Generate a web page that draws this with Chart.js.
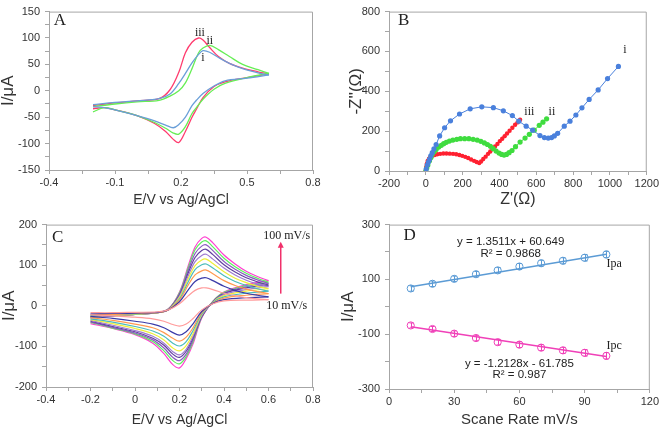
<!DOCTYPE html>
<html>
<head>
<meta charset="utf-8">
<script src="https://cdn.jsdelivr.net/npm/chart.js@4.4.0/dist/chart.umd.min.js"></script>
<style>
  html, body { margin: 0; padding: 0; background: #fff; }
  #wrap { position: relative; width: 661px; height: 427px; overflow: hidden; }
  canvas { position: absolute; }
</style>
</head>
<body>
<div id="wrap">
  <canvas id="chart-a" width="330" height="213" style="left:0;top:0"></canvas>
  <canvas id="chart-b" width="331" height="213" style="left:330px;top:0"></canvas>
  <canvas id="chart-c" width="330" height="214" style="left:0;top:213px"></canvas>
  <canvas id="chart-d" width="331" height="214" style="left:330px;top:213px"></canvas>
</div>
<script>
// ---- Panel A: CV of three electrodes (i, ii, iii) ----
const cvAFwdX = [-0.2, -0.1, 0, 0.1, 0.15, 0.19, 0.22, 0.25, 0.28, 0.3, 0.33, 0.37, 0.42, 0.48, 0.55, 0.6];
const cvARevX = [0.6, 0.5, 0.4, 0.35, 0.3, 0.27, 0.25, 0.22, 0.19, 0.165, 0.13, 0.08, 0, -0.1, -0.15, -0.2];
const cvAiFwd   = [-26, -22, -19, -15, -6, 14, 33, 53, 69, 76, 73, 63, 52, 42, 34, 30];
const cvAiRev   = [30, 24, 19, 9, -5, -18, -28, -50, -64, -70, -65, -57, -47, -36, -32, -30];
const cvAiiFwd  = [-30, -25, -21, -18, -10, 0, 15, 42, 72, 81, 86, 78, 65, 50, 40, 33];
const cvAiiRev  = [33, 25, 14, 3, -16, -32, -43, -68, -82, -80, -71, -60, -47, -36, -32, -40];
const cvAiiiFwd = [-28, -23, -19, -15, 2, 35, 72, 92, 100, 96, 82, 65, 52, 43, 36, 32];
const cvAiiiRev = [32, 25, 17, 8, -13, -35, -50, -77, -98, -92, -77, -62, -47, -36, -32, -34];

// ---- Panel B: Nyquist plots ----
const eisIX = [2, 8, 14, 20, 27, 35, 44, 56, 75, 102, 134, 183, 241, 304, 367, 421, 470, 505, 545, 580, 620, 644, 665, 683, 698, 716, 752, 783, 815, 848, 887, 936, 987, 1046];
const eisIY = [10, 30, 45, 58, 76, 92, 111, 133, 176, 217, 252, 286, 312, 322, 318, 302, 278, 250, 225, 205, 178, 168, 165, 168, 176, 189, 225, 250, 281, 317, 359, 407, 464, 525];
const eisIiX = [0, 5, 11, 20, 28, 35, 45, 56, 70, 84, 97, 111, 128, 147, 168, 188, 211, 234, 257, 279, 299, 318, 335, 351, 366, 382, 398, 412, 425, 438, 452, 468, 487, 512, 539, 562, 589, 616, 636, 656];
const eisIiY = [0, 15, 30, 52, 68, 84, 97, 108, 120, 129, 137, 144, 150, 155, 159, 162, 162, 162, 159, 155, 149, 141, 133, 124, 112, 100, 90, 83, 80, 83, 92, 103, 122, 145, 165, 184, 205, 229, 245, 262];
const eisIiiX = [0, 2, 5, 10, 17, 25, 35, 48, 62, 78, 95, 112, 130, 148, 165, 182, 198, 214, 230, 246, 262, 276, 290, 300, 312, 325, 338, 350, 363, 376, 389, 402, 415, 428, 441, 455, 470, 485, 498, 512];
const eisIiiY = [0, 20, 35, 50, 62, 70, 76, 80, 84, 86, 88, 88, 87, 86, 84, 80, 76, 71, 65, 58, 51, 45, 40, 48, 60, 72, 86, 98, 110, 123, 136, 150, 162, 175, 188, 202, 217, 232, 244, 257];

// ---- Panel C: CV at scan rates 10..100 mV/s ----
const scanRateNames = ['10', '20', '30', '40', '50', '60', '70', '80', '90', '100'];
const cvCFwdX = [-0.2, -0.1, 0, 0.1, 0.15, 0.2, 0.24, 0.27, 0.3, 0.32, 0.35, 0.4, 0.45, 0.5, 0.55, 0.6];
const cvCRevX = [0.6, 0.5, 0.4, 0.35, 0.3, 0.26, 0.23, 0.2, 0.17, 0.13, 0.08, 0, -0.1, -0.2];
const cvCFwd = [
  [-17, -17, -16, -15, -10, 5, 25, 38, 44, 44, 40, 31, 25, 20, 17, 15],
  [-20, -19, -18, -16, -10, 10, 40, 60, 68, 69, 62, 48, 38, 31, 26, 22],
  [-22, -21, -19, -17, -10, 14, 52, 76, 86, 88, 79, 62, 50, 41, 35, 30],
  [-24, -22, -20, -17, -10, 17, 60, 89, 101, 103, 93, 74, 60, 50, 42, 36],
  [-25, -23, -21, -17, -9, 21, 68, 99, 113, 115, 104, 84, 68, 57, 48, 42],
  [-26, -24, -21, -17, -9, 24, 75, 109, 124, 127, 115, 93, 76, 63, 54, 47],
  [-27, -24, -21, -17, -9, 27, 82, 119, 136, 139, 126, 101, 83, 69, 59, 51],
  [-28, -25, -21, -17, -8, 29, 89, 129, 147, 150, 136, 109, 90, 75, 64, 55],
  [-29, -25, -21, -17, -8, 32, 95, 138, 157, 160, 145, 117, 96, 80, 68, 58],
  [-30, -25, -21, -17, -8, 34, 100, 145, 166, 169, 155, 125, 103, 85, 72, 62]
];
const cvCRev = [
  [15, 14, 12, 5, -10, -32, -45, -50, -46, -38, -32, -28, -25, -22],
  [22, 20, 15, 6, -14, -45, -64, -72, -66, -54, -45, -38, -31, -26],
  [30, 26, 19, 7, -17, -55, -77, -87, -80, -66, -54, -45, -36, -29],
  [36, 31, 22, 8, -20, -62, -88, -99, -92, -75, -62, -51, -40, -32],
  [42, 36, 25, 9, -22, -70, -98, -111, -104, -84, -69, -56, -44, -34],
  [47, 40, 28, 9, -24, -76, -107, -121, -113, -92, -75, -61, -48, -36],
  [51, 44, 30, 10, -26, -80, -112, -127, -119, -97, -80, -64, -51, -38],
  [55, 47, 31, 10, -27, -85, -119, -135, -127, -104, -84, -67, -53, -40],
  [58, 50, 33, 11, -28, -90, -125, -143, -135, -111, -88, -69, -55, -41],
  [62, 52, 34, 11, -30, -95, -130, -153, -145, -118, -92, -71, -56, -44]
];
const cvCColors = ['#ff9b9b', '#3a3aa8', '#ff9a50', '#4bbcbc', '#eeee3a', '#a07cd0', '#6040a0', '#8a5cc0', '#5ef05e', '#ff40d0'];

// ---- Panel D: peak current vs scan rate ----
const scanRates = [10, 20, 30, 40, 50, 60, 70, 80, 90, 100];
const ipa = [67, 84, 102, 119, 133, 147, 159, 168, 179, 191];
const ipaErr = [10, 10, 10, 10, 10, 11, 11, 11, 12, 12];
const ipc = [-68, -81, -98, -114, -129, -138, -149, -159, -168, -179];
const ipcErr = [9, 9, 10, 10, 10, 11, 11, 11, 12, 12];
const fitX = [10, 100];
const ipaFit = [73, 192];
const ipcFit = [-73, -181];

// text labels, placed in data units
const notesA = [
  { text: 'A', x: -0.35, y: 133, big: true },
  { text: 'iii', x: 0.286, y: 109 },
  { text: 'ii', x: 0.331, y: 95 },
  { text: 'i', x: 0.30, y: 63 }
];
const notesB = [
  { text: 'B', x: -120, y: 755, big: true },
  { text: 'i', x: 1082, y: 609 },
  { text: 'iii', x: 562, y: 299 },
  { text: 'ii', x: 685, y: 299 }
];
const notesC = [
  { text: 'C', x: -0.347, y: 168, big: true },
  { text: '100 mV/s', x: 0.682, y: 173 },
  { text: '10 mV/s', x: 0.682, y: 0 }
];
const arrowC = { x: 0.655, yFrom: 30, yTo: 158 };
const notesD = [
  { text: 'D', x: 9.5, y: 261, big: true },
  { text: 'y = 1.3511x + 60.649', x: 56, y: 237, sans: true },
  { text: 'R² = 0.9868', x: 56, y: 195, sans: true },
  { text: 'Ipa', x: 103.6, y: 156 },
  { text: 'Ipc', x: 103.6, y: -141 },
  { text: 'y = -1.2128x - 61.785', x: 60, y: -209, sans: true },
  { text: 'R² = 0.987', x: 60, y: -249, sans: true }
];

const FRAME = '#a6a6a6';
const SANS = "'Liberation Sans', Arial, sans-serif";
const SERIF = "'Liberation Serif', 'Times New Roman', serif";

function pts(xs, ys) {
  return xs.map((x, i) => ({ x: x, y: ys[i] }));
}

function fmt(v) {
  return String(Math.round(v * 100) / 100);
}

function axis(min, max, step, size, isY, title, titleSize, titlePad) {
  return {
    type: 'linear',
    min: min,
    max: max,
    afterFit: function(s) {
      if (isY) s.width = size; else s.height = size;
    },
    border: { color: FRAME },
    grid: { drawOnChartArea: false, color: FRAME, tickLength: 4 },
    ticks: {
      stepSize: step,
      autoSkip: false,
      maxRotation: 0,
      padding: isY ? 5 : 2,
      color: '#333',
      font: { family: SANS, size: 11 },
      callback: function(value, index) {
        return index % 2 === 0 ? fmt(value) : '';
      }
    },
    title: {
      display: true,
      text: title,
      color: '#333',
      font: { family: SANS, size: titleSize, lineHeight: 1 },
      padding: isY ? { top: titlePad, bottom: 0 } : { top: 0, bottom: titlePad }
    }
  };
}

// frame + text notes drawn through the chart's own scales
function notesPlugin(notes, arrow) {
  return {
    id: 'notes',
    afterDraw: function(chart) {
      const ctx = chart.ctx;
      const a = chart.chartArea;
      const xs = chart.scales.x, ys = chart.scales.y;
      ctx.save();
      ctx.strokeStyle = FRAME;
      ctx.lineWidth = 1;
      ctx.beginPath();
      ctx.moveTo(a.left, a.top + 0.5);
      ctx.lineTo(a.right - 0.5, a.top + 0.5);
      ctx.lineTo(a.right - 0.5, a.bottom);
      ctx.stroke();
      ctx.textAlign = 'center';
      ctx.textBaseline = 'middle';
      notes.forEach(function(n) {
        ctx.fillStyle = '#222';
        if (n.big) ctx.font = '17px ' + SERIF;
        else if (n.sans) ctx.font = '11.5px ' + SANS;
        else ctx.font = '12px ' + SERIF;
        ctx.fillText(n.text, xs.getPixelForValue(n.x), ys.getPixelForValue(n.y));
      });
      if (arrow) {
        const ax = xs.getPixelForValue(arrow.x);
        const y0 = ys.getPixelForValue(arrow.yFrom);
        const y1 = ys.getPixelForValue(arrow.yTo);
        ctx.strokeStyle = '#f0306a';
        ctx.fillStyle = '#f0306a';
        ctx.lineWidth = 1.5;
        ctx.beginPath();
        ctx.moveTo(ax, y0);
        ctx.lineTo(ax, y1 + 4);
        ctx.stroke();
        ctx.beginPath();
        ctx.moveTo(ax, y1);
        ctx.lineTo(ax - 3, y1 + 6);
        ctx.lineTo(ax + 3, y1 + 6);
        ctx.closePath();
        ctx.fill();
      }
      ctx.restore();
    }
  };
}

function baseOptions(scales, pad) {
  return {
    responsive: false,
    animation: false,
    devicePixelRatio: 1,
    events: [],
    layout: { padding: pad },
    plugins: { legend: { display: false }, tooltip: { enabled: false } },
    scales: scales
  };
}

function curve(xs, ys, color, width) {
  return {
    data: pts(xs, ys),
    showLine: true,
    borderColor: color,
    borderWidth: width || 1.3,
    pointRadius: 0,
    tension: 0.35
  };
}

// Panel A
new Chart(document.getElementById('chart-a'), {
  type: 'scatter',
  data: {
    datasets: [
      curve(cvAFwdX, cvAiFwd, '#6a9fd8'), curve(cvARevX, cvAiRev, '#6a9fd8'),
      curve(cvAFwdX, cvAiiFwd, '#66ee55'), curve(cvARevX, cvAiiRev, '#66ee55'),
      curve(cvAFwdX, cvAiiiFwd, '#ff3b6e'), curve(cvARevX, cvAiiiRev, '#ff3b6e')
    ]
  },
  options: baseOptions({
    x: axis(-0.4, 0.8, 0.15, 43, false, 'E/V vs Ag/AgCl', 14, 6),
    y: axis(-150, 150, 25, 49, true, 'I/μA', 17, 0)
  }, { top: 6, right: 17, left: 0, bottom: 0 }),
  plugins: [notesPlugin(notesA)]
});

// Panel B
function eis(xs, ys, color, r) {
  return {
    data: pts(xs, ys),
    showLine: true,
    borderColor: color,
    backgroundColor: color,
    borderWidth: 1,
    pointRadius: r,
    pointBorderWidth: 0,
    tension: 0
  };
}
new Chart(document.getElementById('chart-b'), {
  type: 'scatter',
  data: {
    datasets: [
      eis(eisIX, eisIY, '#4a80dc', 2.6),
      eis(eisIiX, eisIiY, '#3fdc3f', 2.6),
      eis(eisIiiX, eisIiiY, '#ff2030', 2.2)
    ]
  },
  options: baseOptions({
    x: axis(-200, 1200, 100, 42, false, "Z'(Ω)", 16, 5),
    y: axis(0, 800, 100, 59, true, "-Z''(Ω)", 17, 18)
  }, { top: 6, right: 13, left: 0, bottom: 0 }),
  plugins: [notesPlugin(notesB)]
});

// Panel C
const cDatasets = [];
scanRateNames.forEach(function(name, i) {
  cDatasets.push(curve(cvCFwdX, cvCFwd[i], cvCColors[i], 1.2));
  cDatasets.push(curve(cvCRevX, cvCRev[i], cvCColors[i], 1.2));
});
new Chart(document.getElementById('chart-c'), {
  type: 'scatter',
  data: { datasets: cDatasets },
  options: baseOptions({
    x: axis(-0.4, 0.8, 0.1, 40, false, 'E/V vs Ag/AgCl', 14, 0),
    y: axis(-200, 200, 50, 46, true, 'I/μA', 17, 1)
  }, { top: 9, right: 17, left: 0, bottom: 0 }),
  plugins: [notesPlugin(notesC, arrowC)]
});

// Panel D
const errorBars = {
  id: 'errorBars',
  afterDatasetsDraw: function(chart) {
    const ctx = chart.ctx;
    const xs = chart.scales.x, ys = chart.scales.y;
    ctx.save();
    ctx.lineWidth = 1;
    [[ipa, ipaErr, '#5b9bd5'], [ipc, ipcErr, '#f040b8']].forEach(function(s) {
      ctx.strokeStyle = s[2];
      scanRates.forEach(function(r, i) {
        const px = Math.round(xs.getPixelForValue(r)) + 0.5;
        const top = ys.getPixelForValue(s[0][i] + s[1][i]);
        const bot = ys.getPixelForValue(s[0][i] - s[1][i]);
        ctx.beginPath();
        ctx.moveTo(px, top); ctx.lineTo(px, bot);
        ctx.moveTo(px - 2, top); ctx.lineTo(px + 2, top);
        ctx.moveTo(px - 2, bot); ctx.lineTo(px + 2, bot);
        ctx.stroke();
      });
    });
    ctx.restore();
  }
};
function fitLine(ys, color) {
  return { data: pts(fitX, ys), showLine: true, borderColor: color, borderWidth: 1.5, pointRadius: 0 };
}
function marks(ys, color) {
  return {
    data: pts(scanRates, ys),
    showLine: false,
    borderColor: color,
    backgroundColor: 'rgba(255,255,255,0)',
    pointRadius: 3.6,
    pointBorderWidth: 1
  };
}
new Chart(document.getElementById('chart-d'), {
  type: 'scatter',
  data: {
    datasets: [
      fitLine(ipaFit, '#5b9bd5'), marks(ipa, '#5b9bd5'),
      fitLine(ipcFit, '#f040b8'), marks(ipc, '#f040b8')
    ]
  },
  options: baseOptions({
    x: axis(0, 120, 15, 38, false, 'Scane Rate mV/s', 15, 0),
    y: axis(-300, 300, 100, 59, true, 'I/μA', 17, 10)
  }, { top: 10, right: 10, left: 0, bottom: 0 }),
  plugins: [notesPlugin(notesD), errorBars]
});
</script>
</body>
</html>
